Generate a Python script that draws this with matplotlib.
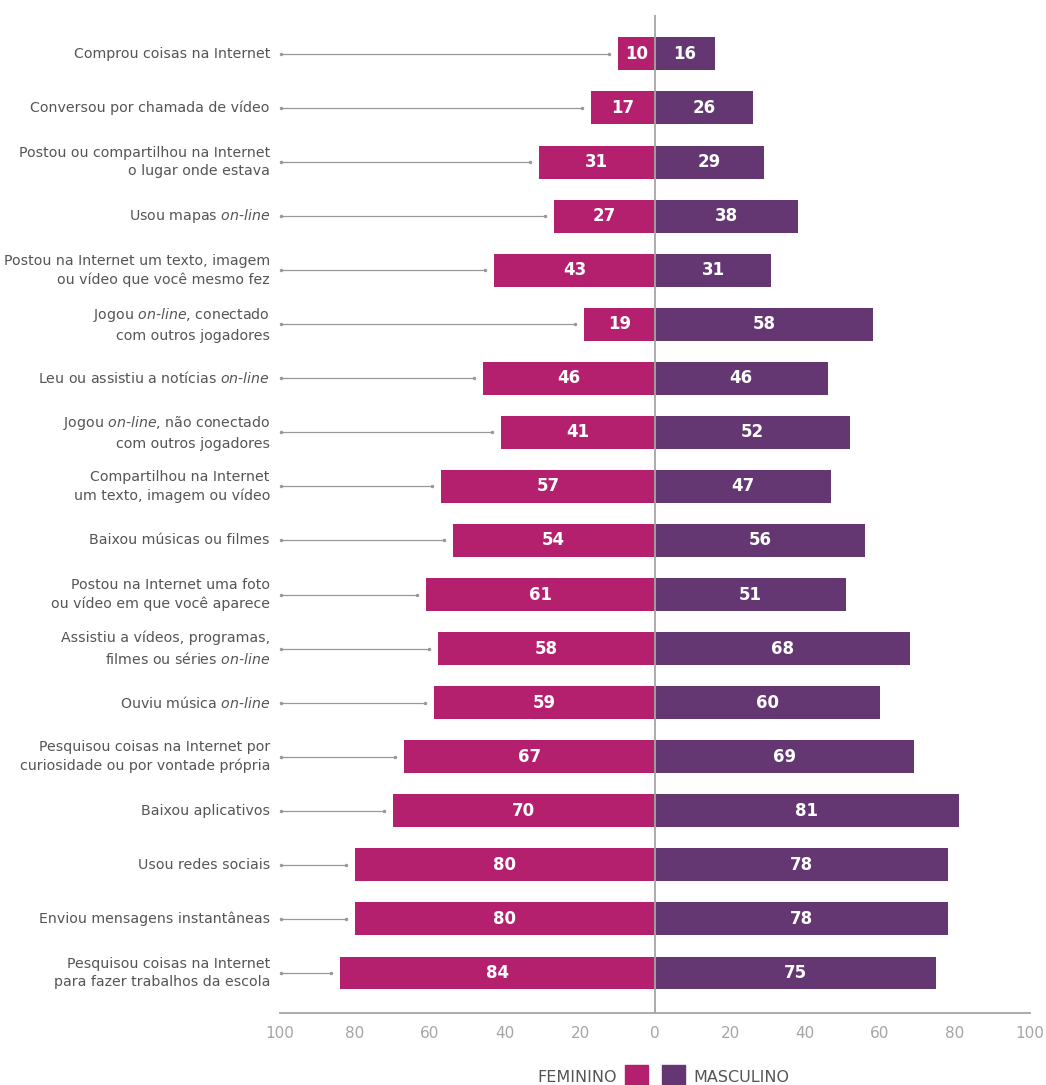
import numpy as np
import matplotlib
matplotlib.use('Agg')
import matplotlib.pyplot as plt
from matplotlib.patches import Rectangle
from matplotlib.ticker import FuncFormatter

plt.rcParams['font.family'] = ['DejaVu Sans']
plt.rcParams['mathtext.fontset'] = 'custom'
plt.rcParams['mathtext.rm'] = 'DejaVu Sans'
plt.rcParams['mathtext.it'] = 'DejaVu Sans:italic'

# Data (percent), top to bottom
OL = r'$\mathit{on}$-$\mathit{line}$'
categories = [
    'Comprou coisas na Internet',
    'Conversou por chamada de vídeo',
    'Postou ou compartilhou na Internet\no lugar onde estava',
    'Usou mapas ' + OL,
    'Postou na Internet um texto, imagem\nou vídeo que você mesmo fez',
    'Jogou ' + OL + ', conectado\ncom outros jogadores',
    'Leu ou assistiu a notícias ' + OL,
    'Jogou ' + OL + ', não conectado\ncom outros jogadores',
    'Compartilhou na Internet\num texto, imagem ou vídeo',
    'Baixou músicas ou filmes',
    'Postou na Internet uma foto\nou vídeo em que você aparece',
    'Assistiu a vídeos, programas,\nfilmes ou séries ' + OL,
    'Ouviu música ' + OL,
    'Pesquisou coisas na Internet por\ncuriosidade ou por vontade própria',
    'Baixou aplicativos',
    'Usou redes sociais',
    'Enviou mensagens instantâneas',
    'Pesquisou coisas na Internet\npara fazer trabalhos da escola',
]
feminino = [10, 17, 31, 27, 43, 19, 46, 41, 57, 54, 61, 58, 59, 67, 70, 80, 80, 84]
masculino = [16, 26, 29, 38, 31, 58, 46, 52, 47, 56, 51, 68, 60, 69, 81, 78, 78, 75]
xticks = [-100, -80, -60, -40, -20, 0, 20, 40, 60, 80, 100]

c_fem = '#B5206E'
c_masc = '#643772'
c_gray = '#A5A5A5'
c_text = '#555555'

W, H = 1046, 1085
fig = plt.figure(figsize=(W / 100, H / 100), dpi=100)
ax = fig.add_axes([280 / W, 1 - 1013 / H, 750 / W, 998 / H])

y = np.arange(len(categories))
fem = np.array(feminino)
masc = np.array(masculino)

ax.barh(y, -fem, height=0.61, color=c_fem, zorder=2)
ax.barh(y, masc, height=0.61, color=c_masc, zorder=2)

for i in range(len(categories)):
    ax.text(-fem[i] / 2, y[i], str(fem[i]), ha='center', va='center',
            color='white', fontsize=12, fontweight='bold', zorder=3)
    ax.text(masc[i] / 2, y[i], str(masc[i]), ha='center', va='center',
            color='white', fontsize=12, fontweight='bold', zorder=3)
    # connector from label to bar
    ax.plot([-99.7, -fem[i] - 2.4], [y[i], y[i]], color='#999999', lw=0.9,
            marker='o', markersize=1.5, zorder=1, clip_on=False)
    ax.text(-102.7, y[i], categories[i], ha='right', va='center',
            multialignment='right', color=c_text, fontsize=10.2,
            linespacing=1.42)

ax.axvline(0, color=c_gray, lw=1.3, zorder=4)
ax.set_xlim(-100, 100)
ax.set_ylim(17.74, -0.72)
ax.set_xticks(xticks)
ax.xaxis.set_major_formatter(FuncFormatter(lambda v, p: f'{abs(int(v))}'))
ax.tick_params(axis='x', length=0, colors=c_gray, labelsize=11, pad=9)
ax.set_yticks([])
for s in ['top', 'right', 'left']:
    ax.spines[s].set_visible(False)
ax.spines['bottom'].set_color(c_gray)
ax.spines['bottom'].set_linewidth(1.3)

# legend
fig.text(617 / W, 1 - 1077 / H, 'FEMININO', ha='right', va='center',
         color=c_text, fontsize=11.5)
fig.patches.append(Rectangle((625 / W, 0), 23 / W, 20 / H, color=c_fem,
                             transform=fig.transFigure))
fig.patches.append(Rectangle((662 / W, 0), 23 / W, 20 / H, color=c_masc,
                             transform=fig.transFigure))
fig.text(693 / W, 1 - 1077 / H, 'MASCULINO', ha='left', va='center',
         color=c_text, fontsize=11.5)

fig.savefig('out.png', dpi=100)
